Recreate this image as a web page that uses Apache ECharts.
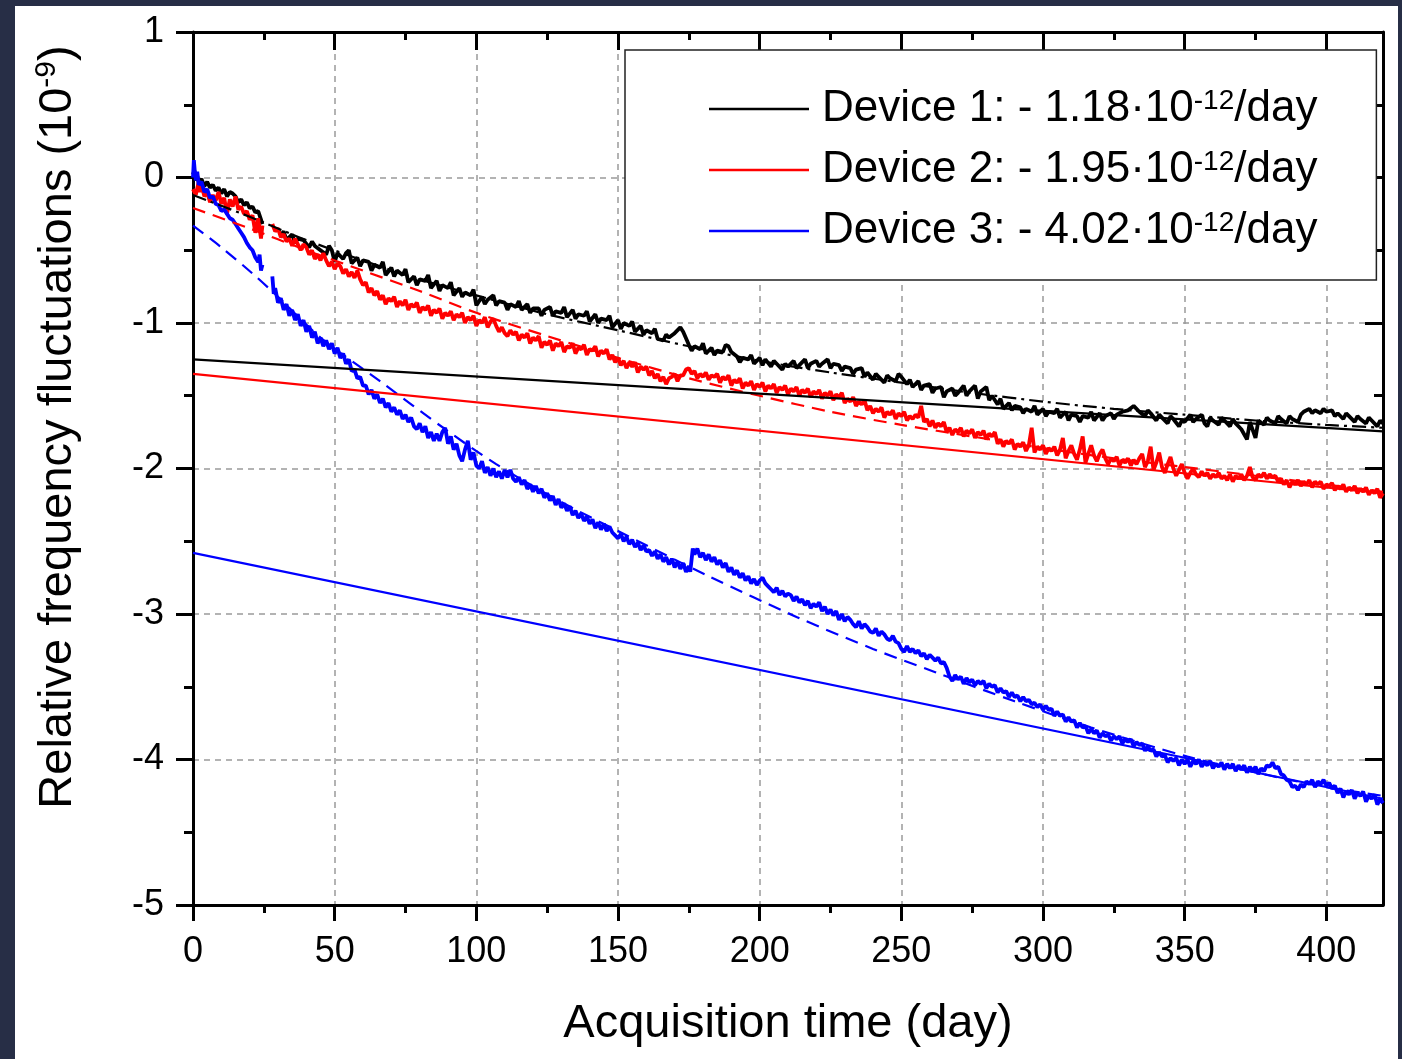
<!DOCTYPE html>
<html>
<head>
<meta charset="utf-8">
<script src="https://cdn.jsdelivr.net/npm/echarts@6/dist/echarts.min.js"></script>
<style>
html,body{margin:0;padding:0;background:#272e46;width:1402px;height:1059px;overflow:hidden;}
#c{position:absolute;left:15px;top:6px;width:1383px;height:1053px;background:#fff;}
</style>
</head>
<body>
<div id="c"></div>
<script>
// ---------- data (day, relative frequency fluctuation in 1e-9) ----------
const xMajorTicks = [0,50,100,150,200,250,300,350,400];
const xMinorTicks = [25,75,125,175,225,275,325,375];
const legendNames = ['Device 1','Device 2','Device 3'];
const driftLabels = ['1.18','1.95','4.02'];

const device1 = [[0,0.02],[0.5,0.05],[1,-0.02],[1.5,0.01],[2,-0.03],[3,-0.01],[4,-0.06],[5,-0.03],[6,-0.07],[7,-0.05],[8,-0.09],[9,-0.07],[10,-0.11],[11,-0.08],[12,-0.13],[13,-0.1],[14,-0.11],[15,-0.13],[16,-0.17],[17,-0.15],[18,-0.19],[19,-0.17],[20,-0.21],[21,-0.2],[22,-0.24],[23,-0.23],[24,-0.29],[24.5,-0.32],[26,null],
[31,-0.4],[32,-0.37],[33,-0.43],[35,-0.39],[36,-0.45],[37,-0.42],[39,-0.43],[41,-0.48],[42,-0.44],[43,-0.47],[45,-0.5],[47,-0.53],[48,-0.47],[49,-0.5],[50,-0.58],[51,-0.52],[53,-0.56],[54,-0.52],[55,-0.5],[56,-0.59],[58,-0.55],[59,-0.61],[60,-0.57],[62,-0.58],[63,-0.64],[64,-0.6],[66,-0.62],[67,-0.58],[68,-0.67],[70,-0.62],[71,-0.68],[72,-0.64],[74,-0.67],[75,-0.63],[76,-0.72],[78,-0.68],[79,-0.74],[80,-0.7],[82,-0.71],[83,-0.67],[84,-0.76],[86,-0.71],[87,-0.78],[88,-0.74],[90,-0.76],[91,-0.72],[92,-0.81],[94,-0.76],[95,-0.82],[96,-0.79],[98,-0.81],[99,-0.77],[100,-0.88],[102,-0.82],[103,-0.87],[104,-0.84],[106,-0.81],[107,-0.88],[108,-0.85],[110,-0.86],[111,-0.91],[112,-0.87],[114,-0.89],[115,-0.85],[116,-0.91],[118,-0.87],[119,-0.93],[120,-0.9],[122,-0.9],[123,-0.95],[124,-0.91],[126,-0.89],[127,-0.95],[128,-0.92],[130,-0.93],[131,-0.89],[132,-0.96],[134,-0.91],[135,-0.97],[136,-0.94],[138,-0.95],[139,-0.92],[140,-0.99],[142,-0.94],[143,-1.0],[144,-0.97],[146,-0.98],[147,-0.95],[148,-1.03],[150,-0.98],[151,-1.04],[152,-1.0],[154,-1.02],[155,-0.99],[156,-1.06],[158,-1.02],[159,-1.08],[160,-1.05],[162,-1.07],[163,-1.04],[164,-1.11],[166,-1.12],[167,-1.08],[168,-1.1],[170,-1.07],[172,-1.03],[173,-1.06],[175,-1.15],[176,-1.19],[177,-1.16],[179,-1.18],[180,-1.14],[181,-1.21],[183,-1.17],[184,-1.22],[185,-1.19],[187,-1.2],[188,-1.15],[189,-1.16],[190,-1.2],[192,-1.23],[193,-1.27],[194,-1.24],[196,-1.25],[197,-1.22],[198,-1.28],[200,-1.24],[201,-1.29],[202,-1.25],[204,-1.3],[205,-1.26],[206,-1.28],[208,-1.32],[209,-1.28],[210,-1.3],[212,-1.26],[213,-1.31],[214,-1.29],[216,-1.25],[217,-1.31],[218,-1.28],[220,-1.26],[221,-1.3],[222,-1.28],[224,-1.25],[225,-1.31],[226,-1.28],[228,-1.29],[229,-1.33],[230,-1.3],[232,-1.31],[233,-1.35],[234,-1.32],[236,-1.31],[237,-1.37],[238,-1.34],[240,-1.39],[241,-1.35],[242,-1.37],[244,-1.41],[245,-1.36],[246,-1.38],[248,-1.4],[249,-1.35],[250,-1.37],[252,-1.42],[253,-1.39],[254,-1.44],[256,-1.4],[257,-1.46],[258,-1.43],[260,-1.42],[261,-1.48],[262,-1.45],[264,-1.44],[265,-1.51],[266,-1.47],[268,-1.45],[269,-1.5],[270,-1.48],[272,-1.43],[273,-1.5],[274,-1.47],[276,-1.43],[277,-1.52],[278,-1.47],[280,-1.44],[281,-1.53],[282,-1.5],[284,-1.56],[285,-1.52],[286,-1.59],[288,-1.55],[289,-1.6],[290,-1.57],[292,-1.58],[293,-1.62],[294,-1.59],[296,-1.61],[297,-1.57],[298,-1.63],[300,-1.59],[301,-1.64],[302,-1.61],[304,-1.62],[305,-1.59],[306,-1.65],[308,-1.61],[309,-1.67],[310,-1.63],[312,-1.64],[313,-1.68],[314,-1.64],[316,-1.65],[317,-1.61],[318,-1.67],[320,-1.62],[321,-1.67],[322,-1.64],[324,-1.62],[325,-1.66],[326,-1.63],[328,-1.61],[330,-1.6],[332,-1.57],[334,-1.61],[336,-1.64],[337,-1.6],[338,-1.62],[340,-1.67],[341,-1.63],[342,-1.65],[344,-1.69],[345,-1.64],[346,-1.66],[348,-1.71],[349,-1.67],[350,-1.68],[352,-1.63],[353,-1.68],[354,-1.66],[356,-1.63],[357,-1.69],[358,-1.71],[359,-1.65],[360,-1.67],[362,-1.7],[363,-1.65],[364,-1.67],[366,-1.71],[367,-1.66],[368,-1.69],[370,-1.73],[372,-1.8],[373,-1.68],[375,-1.79],[376,-1.67],[378,-1.7],[379,-1.65],[380,-1.67],[382,-1.69],[383,-1.64],[384,-1.66],[386,-1.69],[387,-1.64],[388,-1.66],[390,-1.68],[391,-1.63],[392,-1.61],[394,-1.59],[395,-1.62],[396,-1.6],[398,-1.62],[399,-1.59],[400,-1.61],[402,-1.6],[403,-1.64],[404,-1.62],[406,-1.66],[407,-1.62],[408,-1.64],[410,-1.68],[411,-1.64],[412,-1.66],[414,-1.69],[415,-1.65],[416,-1.67],[418,-1.71],[419,-1.67],[420,-1.69]];

const device2 = [[0,-0.08],[1,-0.12],[2,-0.03],[2.5,-0.1],[3,-0.05],[4,-0.13],[5,-0.1],[6,-0.17],[7,-0.12],[8,-0.16],[9,-0.1],[10,-0.18],[11,-0.14],[12,-0.25],[13,-0.15],[14,-0.2],[15,-0.13],[16,-0.22],[17,-0.2],[18,-0.25],[19,-0.23],[20,-0.29],[21,-0.26],[22,-0.38],[23,-0.28],[24,-0.42],[24.5,-0.33],[26,null],
[28,-0.32],[29,-0.37],[30,-0.35],[31,-0.41],[32,-0.39],[33,-0.44],[34,-0.42],[35,-0.47],[36,-0.42],[37,-0.46],[38,-0.5],[39,-0.46],[40,-0.48],[41,-0.53],[42,-0.5],[43,-0.56],[44,-0.53],[45,-0.57],[46,-0.52],[47,-0.57],[48,-0.61],[49,-0.58],[50,-0.63],[51,-0.59],[52,-0.61],[53,-0.66],[54,-0.63],[55,-0.68],[56,-0.65],[57,-0.69],[58,-0.64],[59,-0.7],[60,-0.74],[61,-0.72],[62,-0.79],[63,-0.76],[64,-0.81],[65,-0.78],[66,-0.84],[67,-0.81],[68,-0.87],[69,-0.83],[70,-0.85],[71,-0.82],[72,-0.89],[73,-0.85],[74,-0.88],[75,-0.84],[76,-0.91],[77,-0.87],[78,-0.89],[79,-0.86],[80,-0.93],[81,-0.89],[82,-0.91],[83,-0.88],[84,-0.95],[85,-0.91],[86,-0.93],[87,-0.9],[88,-0.97],[89,-0.93],[90,-0.95],[91,-0.92],[92,-0.98],[93,-0.94],[94,-0.96],[95,-0.93],[96,-1.0],[97,-0.96],[98,-0.98],[99,-0.95],[100,-1.02],[101,-0.98],[102,-1.0],[103,-0.96],[104,-1.03],[105,-0.99],[106,-0.97],[107,-1.02],[108,-1.06],[109,-1.03],[110,-1.07],[111,-1.09],[112,-1.05],[113,-1.08],[114,-1.06],[115,-1.12],[116,-1.08],[117,-1.1],[118,-1.07],[119,-1.14],[120,-1.1],[121,-1.12],[122,-1.09],[123,-1.17],[124,-1.13],[125,-1.15],[126,-1.12],[127,-1.19],[128,-1.14],[129,-1.16],[130,-1.13],[131,-1.2],[132,-1.16],[133,-1.17],[134,-1.14],[135,-1.21],[136,-1.17],[137,-1.18],[138,-1.15],[139,-1.22],[140,-1.18],[141,-1.19],[142,-1.16],[143,-1.23],[144,-1.19],[145,-1.21],[146,-1.18],[147,-1.25],[148,-1.22],[149,-1.27],[150,-1.24],[151,-1.29],[152,-1.26],[153,-1.31],[154,-1.27],[155,-1.3],[156,-1.27],[157,-1.34],[158,-1.3],[159,-1.32],[160,-1.3],[161,-1.36],[162,-1.33],[163,-1.38],[164,-1.35],[165,-1.4],[166,-1.37],[167,-1.42],[168,-1.38],[169,-1.37],[170,-1.35],[171,-1.4],[172,-1.36],[173,-1.36],[174,-1.32],[175,-1.31],[176,-1.35],[177,-1.33],[178,-1.38],[179,-1.35],[180,-1.37],[181,-1.34],[182,-1.39],[183,-1.36],[184,-1.37],[185,-1.35],[186,-1.41],[187,-1.37],[188,-1.39],[189,-1.36],[190,-1.43],[191,-1.39],[192,-1.41],[193,-1.38],[194,-1.45],[195,-1.41],[196,-1.43],[197,-1.4],[198,-1.46],[199,-1.42],[200,-1.44],[201,-1.41],[202,-1.47],[203,-1.43],[204,-1.45],[205,-1.42],[206,-1.48],[207,-1.44],[208,-1.46],[209,-1.43],[210,-1.49],[211,-1.45],[212,-1.47],[213,-1.44],[214,-1.5],[215,-1.46],[216,-1.48],[217,-1.45],[218,-1.51],[219,-1.47],[220,-1.49],[221,-1.46],[222,-1.52],[223,-1.48],[224,-1.5],[225,-1.47],[226,-1.53],[227,-1.49],[228,-1.51],[229,-1.48],[230,-1.55],[231,-1.52],[232,-1.54],[233,-1.51],[234,-1.57],[235,-1.54],[236,-1.56],[237,-1.53],[238,-1.6],[239,-1.57],[240,-1.62],[241,-1.59],[242,-1.61],[243,-1.58],[244,-1.65],[245,-1.61],[246,-1.63],[247,-1.6],[248,-1.66],[249,-1.62],[250,-1.64],[251,-1.61],[252,-1.67],[253,-1.64],[254,-1.66],[255,-1.63],[256,-1.65],[257,-1.57],[258,-1.68],[259,-1.66],[260,-1.71],[261,-1.67],[262,-1.72],[263,-1.69],[264,-1.71],[265,-1.68],[266,-1.75],[267,-1.72],[268,-1.77],[269,-1.73],[270,-1.75],[271,-1.72],[272,-1.78],[273,-1.74],[274,-1.76],[275,-1.73],[276,-1.79],[277,-1.75],[278,-1.77],[279,-1.74],[280,-1.8],[281,-1.76],[282,-1.78],[283,-1.75],[284,-1.83],[285,-1.8],[286,-1.85],[287,-1.81],[288,-1.83],[289,-1.8],[290,-1.87],[291,-1.83],[292,-1.85],[293,-1.82],[294,-1.88],[295,-1.84],[296,-1.72],[297,-1.89],[298,-1.85],[299,-1.87],[300,-1.84],[301,-1.9],[302,-1.86],[303,-1.88],[304,-1.85],[305,-1.91],[306,-1.87],[307,-1.79],[308,-1.93],[309,-1.88],[310,-1.84],[311,-1.9],[312,-1.94],[313,-1.87],[314,-1.78],[315,-1.96],[316,-1.9],[317,-1.84],[318,-1.91],[319,-1.95],[320,-1.9],[321,-1.87],[322,-1.93],[323,-1.97],[324,-1.93],[325,-1.95],[326,-1.92],[327,-1.98],[328,-1.94],[329,-1.96],[330,-1.93],[331,-1.98],[332,-1.94],[333,-1.97],[334,-1.93],[335,-1.9],[336,-1.99],[337,-1.95],[338,-1.85],[339,-2.01],[340,-1.96],[341,-1.89],[342,-1.99],[343,-2.03],[344,-1.97],[345,-1.92],[346,-2.0],[347,-2.05],[348,-2.01],[349,-1.97],[350,-2.03],[351,-2.07],[352,-2.03],[353,-2.0],[354,-2.04],[355,-2.06],[356,-2.02],[357,-2.05],[358,-2.03],[359,-2.07],[360,-2.04],[361,-2.06],[362,-2.03],[363,-2.07],[364,-2.05],[365,-2.08],[366,-2.04],[367,-2.09],[368,-2.05],[369,-2.07],[370,-2.04],[371,-2.08],[372,-2.05],[373,-1.99],[374,-2.06],[375,-2.08],[376,-2.04],[377,-2.06],[378,-2.03],[379,-2.07],[380,-2.04],[381,-2.06],[382,-2.05],[383,-2.09],[384,-2.07],[385,-2.11],[386,-2.08],[387,-2.13],[388,-2.09],[389,-2.11],[390,-2.08],[391,-2.12],[392,-2.09],[393,-2.11],[394,-2.08],[395,-2.13],[396,-2.09],[397,-2.11],[398,-2.09],[399,-2.14],[400,-2.11],[401,-2.12],[402,-2.1],[403,-2.15],[404,-2.12],[405,-2.14],[406,-2.11],[407,-2.16],[408,-2.13],[409,-2.15],[410,-2.12],[411,-2.17],[412,-2.14],[413,-2.16],[414,-2.13],[415,-2.18],[416,-2.15],[417,-2.17],[418,-2.14],[419,-2.2],[420,-2.17]];

const device3 = [[0,0.0],[0.3,0.12],[0.6,0.05],[1,-0.02],[1.5,0.04],[2,-0.05],[3,-0.03],[4,-0.1],[5,-0.08],[6,-0.14],[7,-0.13],[8,-0.18],[9,-0.19],[10,-0.23],[11,-0.22],[12,-0.25],[13,-0.28],[14,-0.29],[15,-0.32],[16,-0.35],[17,-0.38],[18,-0.41],[19,-0.45],[20,-0.48],[21,-0.5],[22,-0.55],[23,-0.58],[23.5,-0.53],[24,-0.64],[24.5,-0.6],[26,null],
[28,-0.68],[28.5,-0.8],[29,-0.76],[30,-0.86],[31,-0.83],[32,-0.91],[33,-0.87],[34,-0.95],[35,-0.91],[36,-0.98],[37,-0.94],[38,-1.02],[39,-0.98],[40,-1.06],[41,-1.02],[42,-1.1],[43,-1.06],[44,-1.14],[45,-1.1],[46,-1.16],[47,-1.12],[48,-1.18],[49,-1.14],[50,-1.21],[51,-1.17],[52,-1.24],[53,-1.21],[54,-1.28],[55,-1.25],[56,-1.33],[57,-1.32],[58,-1.38],[59,-1.37],[60,-1.43],[61,-1.43],[62,-1.49],[63,-1.46],[64,-1.52],[65,-1.49],[66,-1.55],[67,-1.52],[68,-1.58],[69,-1.55],[70,-1.61],[71,-1.58],[72,-1.63],[73,-1.6],[74,-1.66],[75,-1.63],[76,-1.68],[77,-1.65],[78,-1.71],[79,-1.73],[80,-1.69],[81,-1.75],[82,-1.71],[83,-1.79],[84,-1.75],[85,-1.81],[86,-1.76],[87,-1.81],[88,-1.75],[89,-1.72],[90,-1.83],[91,-1.78],[92,-1.87],[93,-1.83],[94,-1.91],[95,-1.95],[96,-1.87],[97,-1.81],[98,-1.94],[99,-1.89],[100,-1.98],[101,-2.0],[102,-1.95],[103,-2.03],[104,-1.99],[105,-2.05],[106,-2.0],[107,-2.06],[108,-2.02],[109,-2.07],[110,-2.01],[111,-2.06],[112,-2.01],[113,-2.07],[114,-2.09],[115,-2.06],[116,-2.11],[117,-2.08],[118,-2.14],[119,-2.11],[120,-2.16],[121,-2.12],[122,-2.17],[123,-2.14],[124,-2.2],[125,-2.17],[126,-2.22],[127,-2.19],[128,-2.25],[129,-2.21],[130,-2.27],[131,-2.24],[132,-2.29],[133,-2.26],[134,-2.32],[135,-2.29],[136,-2.34],[137,-2.31],[138,-2.36],[139,-2.33],[140,-2.38],[141,-2.35],[142,-2.41],[143,-2.37],[144,-2.42],[145,-2.38],[146,-2.43],[147,-2.4],[148,-2.44],[149,-2.46],[150,-2.48],[151,-2.45],[152,-2.5],[153,-2.47],[154,-2.52],[155,-2.49],[156,-2.54],[157,-2.51],[158,-2.56],[159,-2.53],[160,-2.57],[161,-2.56],[162,-2.6],[163,-2.57],[164,-2.62],[165,-2.59],[166,-2.64],[167,-2.61],[168,-2.66],[169,-2.62],[170,-2.68],[171,-2.64],[172,-2.69],[173,-2.65],[174,-2.71],[175,-2.67],[175.5,-2.71],[176.4,-2.55],[177,-2.59],[178,-2.55],[179,-2.61],[180,-2.58],[181,-2.63],[182,-2.59],[183,-2.64],[184,-2.61],[185,-2.66],[186,-2.63],[187,-2.68],[188,-2.65],[189,-2.71],[190,-2.68],[191,-2.73],[192,-2.7],[193,-2.75],[194,-2.72],[195,-2.77],[196,-2.74],[197,-2.79],[198,-2.76],[199,-2.8],[200,-2.77],[201,-2.75],[202,-2.79],[203,-2.81],[204,-2.83],[205,-2.85],[206,-2.82],[207,-2.87],[208,-2.84],[209,-2.88],[210,-2.86],[211,-2.87],[212,-2.91],[213,-2.88],[214,-2.92],[215,-2.9],[216,-2.94],[217,-2.91],[218,-2.96],[219,-2.93],[220,-2.95],[221,-2.92],[222,-2.98],[223,-2.95],[224,-3.0],[225,-2.97],[226,-3.01],[227,-2.98],[228,-3.04],[229,-3.0],[230,-3.05],[231,-3.02],[232,-3.04],[233,-3.07],[234,-3.09],[235,-3.05],[236,-3.1],[237,-3.07],[238,-3.09],[239,-3.12],[240,-3.13],[241,-3.1],[242,-3.15],[243,-3.12],[244,-3.14],[245,-3.17],[246,-3.18],[247,-3.15],[248,-3.19],[249,-3.2],[250,-3.24],[251,-3.26],[252,-3.22],[253,-3.26],[254,-3.24],[255,-3.27],[256,-3.25],[257,-3.29],[258,-3.27],[259,-3.31],[260,-3.28],[261,-3.3],[262,-3.32],[263,-3.3],[264,-3.34],[265,-3.33],[266,-3.37],[267,-3.43],[268,-3.46],[269,-3.42],[270,-3.45],[271,-3.43],[272,-3.48],[273,-3.44],[274,-3.47],[275,-3.45],[276,-3.49],[277,-3.46],[278,-3.48],[279,-3.46],[280,-3.51],[281,-3.48],[282,-3.5],[283,-3.49],[284,-3.54],[285,-3.51],[286,-3.54],[287,-3.53],[288,-3.57],[289,-3.54],[290,-3.57],[291,-3.56],[292,-3.6],[293,-3.57],[294,-3.6],[295,-3.59],[296,-3.62],[297,-3.61],[298,-3.64],[299,-3.62],[300,-3.66],[301,-3.63],[302,-3.66],[303,-3.65],[304,-3.7],[305,-3.67],[306,-3.7],[307,-3.69],[308,-3.74],[309,-3.71],[310,-3.74],[311,-3.73],[312,-3.78],[313,-3.75],[314,-3.78],[315,-3.77],[316,-3.82],[317,-3.79],[318,-3.82],[319,-3.8],[320,-3.85],[321,-3.82],[322,-3.84],[323,-3.83],[324,-3.87],[325,-3.84],[326,-3.86],[327,-3.84],[328,-3.89],[329,-3.86],[330,-3.88],[331,-3.86],[332,-3.91],[333,-3.88],[334,-3.9],[335,-3.89],[336,-3.94],[337,-3.91],[338,-3.94],[339,-3.93],[340,-3.98],[341,-3.95],[342,-3.98],[343,-3.97],[344,-4.02],[345,-3.99],[346,-4.01],[347,-3.99],[348,-4.04],[349,-4.0],[350,-4.03],[351,-4.0],[352,-4.05],[353,-4.01],[354,-4.03],[355,-4.0],[356,-4.05],[357,-4.02],[358,-4.04],[359,-4.01],[360,-4.06],[361,-4.03],[362,-4.05],[363,-4.02],[364,-4.07],[365,-4.03],[366,-4.06],[367,-4.03],[368,-4.08],[369,-4.04],[370,-4.07],[371,-4.04],[372,-4.09],[373,-4.05],[374,-4.08],[375,-4.05],[376,-4.1],[377,-4.06],[378,-4.08],[379,-4.04],[380,-4.05],[381,-4.02],[382,-4.06],[383,-4.05],[384,-4.1],[385,-4.11],[386,-4.14],[387,-4.15],[388,-4.19],[389,-4.18],[390,-4.21],[391,-4.17],[392,-4.19],[393,-4.15],[394,-4.17],[395,-4.14],[396,-4.19],[397,-4.15],[398,-4.17],[399,-4.14],[400,-4.18],[401,-4.16],[402,-4.2],[403,-4.18],[404,-4.23],[405,-4.2],[406,-4.26],[407,-4.22],[408,-4.24],[409,-4.21],[410,-4.27],[411,-4.23],[412,-4.25],[413,-4.22],[414,-4.29],[415,-4.25],[416,-4.27],[417,-4.24],[418,-4.31],[419,-4.27],[420,-4.3]];

// fitted curves (dashed / dash-dot)
const fit1 = [[0,-0.12],[20,-0.27],[40,-0.43],[60,-0.57],[80,-0.7],[100,-0.81],[125,-0.94],[150,-1.05],[175,-1.16],[200,-1.26],[225,-1.34],[250,-1.41],[275,-1.48],[300,-1.54],[325,-1.59],[350,-1.63],[375,-1.67],[400,-1.7],[420,-1.72]];
const fit2 = [[0,-0.21],[20,-0.35],[40,-0.5],[60,-0.64],[80,-0.78],[100,-0.93],[125,-1.09],[150,-1.24],[175,-1.38],[200,-1.5],[225,-1.61],[250,-1.7],[275,-1.78],[300,-1.86],[325,-1.93],[350,-1.99],[375,-2.05],[400,-2.11],[420,-2.16]];
const fit3 = [[0,-0.33],[10,-0.48],[21,-0.66],[30,-0.82],[45,-1.1],[66,-1.4],[89,-1.73],[107,-1.97],[129,-2.22],[150,-2.43],[182,-2.74],[213,-3.02],[240,-3.24],[262,-3.4],[290,-3.6],[317,-3.78],[351,-3.98],[380,-4.11],[400,-4.19],[420,-4.25]];

// linear drift lines (slopes from the legend)
const drift1 = [[0,-1.25],[420,-1.745]];
const drift2 = [[0,-1.35],[420,-2.17]];
const drift3 = [[0,-2.58],[420,-4.27]];

// ---------- chart ----------
const FONT = "'Liberation Sans', Arial, sans-serif";
const BLACK = '#000000', RED = '#ff0000', BLUE = '#0000ff';
const chart = echarts.init(document.getElementById('c'), null, {renderer:'canvas'});

const axisLine = {show:true, onZero:false, lineStyle:{color:'#000', width:3}};
function xAxisBase(extra){
  return Object.assign({type:'value', min:0, max:420, interval:50, axisLine:axisLine,
    axisLabel:{show:false}, splitLine:{show:false}}, extra);
}
function yAxisBase(extra){
  return Object.assign({type:'value', min:-5, max:1, interval:1, axisLine:axisLine,
    axisLabel:{show:false}, splitLine:{show:false}}, extra);
}

const option = {
  animation:false,
  backgroundColor:'#ffffff',
  textStyle:{fontFamily:FONT},
  grid:{left:178, right:15, top:26, bottom:154, outerBoundsMode:'none', containLabel:false},
  xAxis:[
    xAxisBase({position:'bottom',
      axisTick:{show:true, inside:false, length:16, customValues:xMajorTicks, lineStyle:{color:'#000', width:3}},
      axisLabel:{show:true, customValues:xMajorTicks, fontSize:36, color:'#000', margin:29, fontFamily:FONT},
      splitLine:{show:true, lineStyle:{type:[6,5], color:'#9a9a9a', width:1.5}},
      name:'Acquisition time (day)', nameLocation:'middle', nameGap:96,
      nameTextStyle:{fontSize:47, color:'#000', fontFamily:FONT}}),
    xAxisBase({position:'top',
      axisTick:{show:true, inside:true, length:18, customValues:xMajorTicks, lineStyle:{color:'#000', width:3}}}),
    xAxisBase({position:'bottom', axisLine:{show:false, onZero:false},
      axisTick:{show:true, inside:false, length:8, customValues:xMinorTicks, lineStyle:{color:'#000', width:3}}}),
    xAxisBase({position:'top', axisLine:{show:false, onZero:false},
      axisTick:{show:true, inside:true, length:8, customValues:xMinorTicks, lineStyle:{color:'#000', width:3}}})
  ],
  yAxis:[
    yAxisBase({position:'left',
      axisTick:{show:true, inside:false, length:17, lineStyle:{color:'#000', width:3}},
      minorTick:{show:true, splitNumber:2, length:9, lineStyle:{color:'#000', width:3}},
      axisLabel:{show:true, fontSize:36, color:'#000', margin:29, fontFamily:FONT},
      splitLine:{show:true, lineStyle:{type:[6,5], color:'#9a9a9a', width:1.5}}}),
    yAxisBase({position:'right',
      axisTick:{show:true, inside:true, length:18, lineStyle:{color:'#000', width:3}},
      minorTick:{show:true, splitNumber:2, length:9, lineStyle:{color:'#000', width:3}}})
  ],
  legend:{
    show:true, orient:'vertical', left:610, top:44,
    data:legendNames, icon:'rect', itemWidth:100, itemHeight:2.5, itemGap:17,
    padding:[37,59,27,84], borderColor:'#222', borderWidth:1.5, backgroundColor:'#fff',
    selectedMode:false,
    formatter:function(name){
      const i = legendNames.indexOf(name);
      return '{a|' + name + ': - ' + driftLabels[i] + '·10}{s|-12}{a|/day}';
    },
    textStyle:{fontFamily:FONT, color:'#000', padding:[0,0,0,8],
      rich:{
        a:{fontSize:44, lineHeight:44, fontFamily:FONT, color:'#000', verticalAlign:'bottom'},
        s:{fontSize:28, lineHeight:26, fontFamily:FONT, color:'#000', verticalAlign:'top'}
      }}
  },
  graphic:[{
    type:'text', x:42, y:421, rotation:Math.PI/2, silent:true,
    style:{
      text:'{a|Relative frequency fluctuations (10}{s|-9}{a|)}',
      align:'center', verticalAlign:'middle',
      rich:{
        a:{fontSize:47, lineHeight:50, fontFamily:FONT, fill:'#000', verticalAlign:'bottom'},
        s:{fontSize:30, lineHeight:30, fontFamily:FONT, fill:'#000', verticalAlign:'top'}
      }
    }
  }],
  series:[
    {name:'Device 1', type:'line', data:device1, showSymbol:false, symbol:'none', connectNulls:false,
      lineStyle:{color:BLACK, width:3.8}, itemStyle:{color:BLACK}, z:3},
    {name:'Device 2', type:'line', data:device2, showSymbol:false, symbol:'none', connectNulls:false,
      lineStyle:{color:RED, width:3.8}, itemStyle:{color:RED}, z:3},
    {name:'Device 3', type:'line', data:device3, showSymbol:false, symbol:'none', connectNulls:false,
      lineStyle:{color:BLUE, width:3.8}, itemStyle:{color:BLUE}, z:3},
    {name:'fit 1', type:'line', data:fit1, smooth:0.3, showSymbol:false, symbol:'none',
      lineStyle:{color:BLACK, width:2.2, type:[14,5,3,5]}, z:4},
    {name:'fit 2', type:'line', data:fit2, smooth:0.3, showSymbol:false, symbol:'none',
      lineStyle:{color:RED, width:2.2, type:[13,8]}, z:4},
    {name:'fit 3', type:'line', data:fit3, smooth:0.3, showSymbol:false, symbol:'none',
      lineStyle:{color:BLUE, width:2.2, type:[13,8]}, z:4},
    {name:'drift 1', type:'line', data:drift1, showSymbol:false, symbol:'none',
      lineStyle:{color:BLACK, width:2.2}, z:4},
    {name:'drift 2', type:'line', data:drift2, showSymbol:false, symbol:'none',
      lineStyle:{color:RED, width:2.2}, z:4},
    {name:'drift 3', type:'line', data:drift3, showSymbol:false, symbol:'none',
      lineStyle:{color:BLUE, width:2.2}, z:4}
  ]
};
chart.setOption(option);
</script>
</body>
</html>
